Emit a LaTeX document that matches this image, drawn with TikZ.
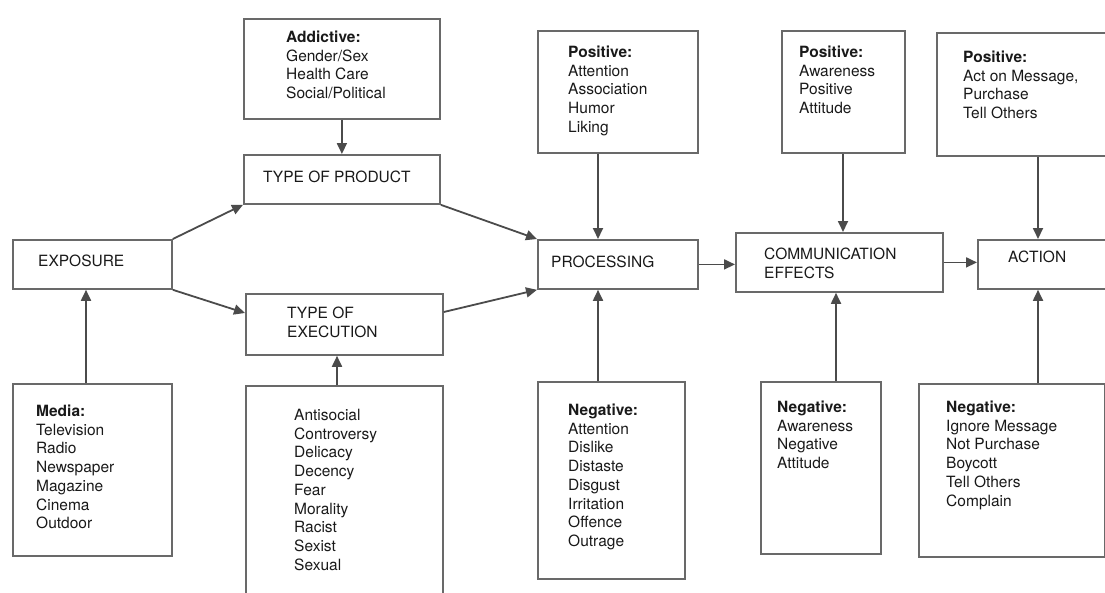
\documentclass[tikz,border=0pt]{standalone}
\usepackage{fontspec}
\setmainfont{TeX Gyre Heros}
\usetikzlibrary{arrows.meta}
\definecolor{framec}{RGB}{105,105,105}
\definecolor{linec}{RGB}{75,75,75}
\definecolor{textc}{RGB}{25,25,25}
\begin{document}
\begin{tikzpicture}[x=1pt, y=-1pt,
    box/.style={draw=framec, line width=1.8pt, anchor=north west, inner sep=0pt},
    txt/.style={anchor=base west, align=left, inner sep=0pt, text=textc,
      font=\fontsize{15.5}{18.7}\selectfont},
    arr/.style={draw=linec, line width=1.8pt, -{Triangle[length=11pt, width=10pt]}}]
    \useasboundingbox (0,0) rectangle (1105,592);
    \clip (0,0) rectangle (1105,592);
    % main line
    \node[box, minimum width=159pt, minimum height=49pt] (expo) at (12,239) {};
    \node[box, minimum width=196pt, minimum height=49pt] (prod) at (243,154) {};
    \node[box, minimum width=197pt, minimum height=61pt] (exec) at (245,293) {};
    \node[box, minimum width=160pt, minimum height=49pt] (proc) at (537,239) {};
    \node[box, minimum width=207pt, minimum height=59pt] (comm) at (735,232) {};
    \node[box, minimum width=140pt, minimum height=49pt] (action) at (977,239) {};
    % (base of a text = its last line)
    \node[txt] (expo-t) at (38,266.5) {EXPOSURE};
    \node[txt] (prod-t) at (263,182.5) {TYPE OF PRODUCT};
    \node[txt] (exec-t) at (287,337.2) {TYPE OF\\EXECUTION};
    \node[txt] (proc-t) at (551,267.5) {PROCESSING};
    \node[txt] (comm-t) at (764,278.2) {COMMUNICATION\\EFFECTS};
    \node[txt] (action-t) at (1008,262.5) {ACTION};
    % upper boxes
    \node[box, minimum width=196pt, minimum height=100pt] (addict) at (243,18) {};
    \node[box, minimum width=160pt, minimum height=122pt] (procpos) at (537,30) {};
    \node[box, minimum width=123pt, minimum height=122pt] (commpos) at (781,30) {};
    \node[box, minimum width=180pt, minimum height=123pt] (actpos) at (936,32) {};
    \node[txt] (addict-t) at (286,98.6) {\textbf{Addictive:}\\Gender/Sex\\Health Care\\Social/Political};
    \node[txt] (procpos-t) at (568,132.3) {\textbf{Positive:}\\Attention\\Association\\Humor\\Liking};
    \node[txt] (commpos-t) at (799,113.6) {\textbf{Positive:}\\Awareness\\Positive\\Attitude};
    \node[txt] (actpos-t) at (963,118.6) {\textbf{Positive:}\\Act on Message,\\Purchase\\Tell Others};
    % lower boxes
    \node[box, minimum width=159pt, minimum height=172pt] (media) at (12,383) {};
    \node[box, minimum width=197pt, minimum height=215pt] (execlist) at (245,385) {};
    \node[box, minimum width=147pt, minimum height=197pt] (procneg) at (537,381) {};
    \node[box, minimum width=120pt, minimum height=172pt] (commneg) at (760,381) {};
    \node[box, minimum width=186pt, minimum height=173pt] (actneg) at (918,383) {};
    \node[txt] (media-t) at (36,528.7) {\textbf{Media:}\\Television\\Radio\\Newspaper\\Magazine\\Cinema\\Outdoor};
    \node[txt] (execlist-t) at (294,570.1) {Antisocial\\Controversy\\Delicacy\\Decency\\Fear\\Morality\\Racist\\Sexist\\Sexual};
    \node[txt] (procneg-t) at (568,546.4) {\textbf{Negative:}\\Attention\\Dislike\\Distaste\\Disgust\\Irritation\\Offence\\Outrage};
    \node[txt] (commneg-t) at (777,468.6) {\textbf{Negative:}\\Awareness\\Negative\\Attitude};
    \node[txt] (actneg-t) at (946,506) {\textbf{Negative:}\\Ignore Message\\Not Purchase\\Boycott\\Tell Others\\Complain};
    % arrow ends
    \coordinate (mediaup) at ([xshift=74pt]media.north west);
    \coordinate (execup) at ([xshift=92pt]execlist.north west);
    \coordinate (procdown) at ([xshift=61pt]procpos.south west);
    \coordinate (procup) at ([xshift=61pt]procneg.north west);
    \coordinate (commdown) at ([xshift=62pt]commpos.south west);
    \coordinate (commup) at ([xshift=76pt]commneg.north west);
    \coordinate (actdown) at ([xshift=102pt]actpos.south west);
    \coordinate (actup) at ([xshift=120pt]actneg.north west);
    \coordinate (execin) at ([yshift=-20pt]exec.north west);
    \coordinate (execout) at ([yshift=-19pt]exec.north east);
    % connectors
    \draw[arr] (expo.north east) -- (prod.south west);
    \draw[arr] (expo.south east) -- (execin);
    \draw[arr] (prod.south east) -- (proc.north west);
    \draw[arr] (execout) -- (proc.south west);
    \draw[arr] (proc.east) -- (proc.east -| comm.west);
    \draw[arr] (comm.east) -- (comm.east -| action.west);
    \draw[arr] (addict.south) -- (prod.north);
    \draw[arr] (mediaup) -- (mediaup |- expo.south);
    \draw[arr] (execup) -- (execup |- exec.south);
    \draw[arr] (procdown) -- (procdown |- proc.north);
    \draw[arr] (procup) -- (procup |- proc.south);
    \draw[arr] (commdown) -- (commdown |- comm.north);
    \draw[arr] (commup) -- (commup |- comm.south);
    \draw[arr] (actdown) -- (actdown |- action.north);
    \draw[arr] (actup) -- (actup |- action.south);
\end{tikzpicture}
\end{document}
